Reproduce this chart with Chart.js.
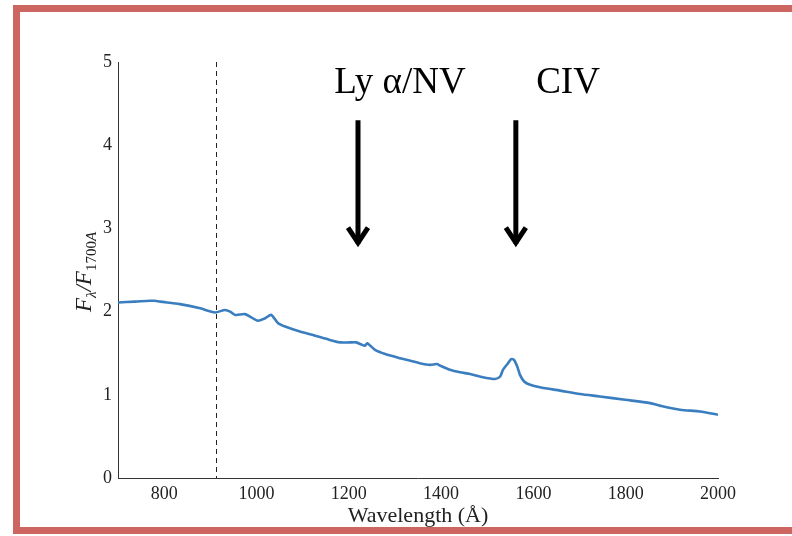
<!DOCTYPE html>
<html>
<head>
<meta charset="utf-8">
<script src="https://cdn.jsdelivr.net/npm/chart.js@4/dist/chart.umd.min.js"></script>
<style>
  html, body { margin: 0; padding: 0; background: #fff; overflow: hidden; }
  #wrap { position: relative; width: 792px; height: 536px; }
  #frame {
    position: absolute; left: 13px; top: 5px; width: 800px; height: 515px;
    border-left: 7px solid #cd6561; border-top: 7px solid #cd6561; border-bottom: 7px solid #cd6561;
    pointer-events: none;
  }
  canvas { position: absolute; left: 0; top: 0; }
</style>
</head>
<body>
<div id="wrap">
  <canvas id="spec" width="792" height="536"></canvas>
  <div id="frame"></div>
</div>
<script>
// composite spectrum
const wavelength = [700, 737, 769, 780, 791, 834, 878, 910, 932, 943, 954, 975, 986, 1003, 1019, 1032,
  1047, 1062, 1094, 1127, 1159, 1181, 1203, 1216, 1229, 1235, 1240, 1257, 1279, 1311, 1333, 1354,
  1376, 1391, 1398, 1419, 1441, 1463, 1484, 1517, 1528, 1534, 1545, 1552, 1558, 1565, 1571, 1580,
  1593, 1614, 1658, 1701, 1744, 1799, 1853, 1874, 1918, 1961, 2000];
const flux = [2.11, 2.12, 2.13, 2.13, 2.12, 2.09, 2.04, 1.99, 2.02, 2.00, 1.96, 1.97, 1.94, 1.89, 1.92, 1.96,
  1.86, 1.82, 1.76, 1.71, 1.66, 1.63, 1.63, 1.63, 1.60, 1.59, 1.62, 1.54, 1.49, 1.44, 1.41, 1.38,
  1.36, 1.37, 1.35, 1.30, 1.27, 1.25, 1.22, 1.19, 1.22, 1.30, 1.38, 1.43, 1.42, 1.34, 1.24, 1.16,
  1.12, 1.09, 1.05, 1.01, 0.98, 0.94, 0.90, 0.87, 0.82, 0.80, 0.76];

const xTicks = [800, 1000, 1200, 1400, 1600, 1800, 2000];
const yTicks = [0, 1, 2, 3, 4, 5];
const lymanLimit = 912;

// emission line markers
const lineNames = ['Ly \u03b1/NV', 'CIV'];
const arrowWave = [1220, 1562];
const labelWave = [1311, 1675];
const arrowTop = 4.30, arrowTip = 2.78, labelY = 4.63;

const serif = '"Liberation Serif", "DejaVu Serif", serif';

const extras = {
  id: 'extras',
  afterDraw(chart) {
    const ctx = chart.ctx, x = chart.scales.x, y = chart.scales.y, area = chart.chartArea;
    ctx.save();

    // Lyman limit
    ctx.strokeStyle = '#222';
    ctx.lineWidth = 1;
    ctx.setLineDash([5, 4]);
    const lx = Math.round(x.getPixelForValue(lymanLimit)) + 0.5;
    ctx.beginPath();
    ctx.moveTo(lx, area.top);
    ctx.lineTo(lx, area.bottom);
    ctx.stroke();
    ctx.setLineDash([]);

    // arrows + labels
    ctx.strokeStyle = '#000';
    ctx.fillStyle = '#000';
    ctx.lineWidth = 5;
    ctx.lineJoin = 'miter';
    ctx.font = '37px ' + serif;
    ctx.textAlign = 'center';
    ctx.textBaseline = 'alphabetic';
    lineNames.forEach((name, i) => {
      const ax = x.getPixelForValue(arrowWave[i]);
      const top = y.getPixelForValue(arrowTop), tip = y.getPixelForValue(arrowTip);
      ctx.beginPath();
      ctx.moveTo(ax, top);
      ctx.lineTo(ax, tip - 3);
      ctx.stroke();
      ctx.beginPath();
      ctx.moveTo(ax - 10, tip - 19);
      ctx.lineTo(ax, tip - 4);
      ctx.lineTo(ax + 10, tip - 19);
      ctx.stroke();
      ctx.fillText(name, x.getPixelForValue(labelWave[i]), y.getPixelForValue(labelY));
    });

    // axis titles
    ctx.fillStyle = '#222';
    ctx.font = '22px ' + serif;
    ctx.fillText('Wavelength (\u00c5)', (area.left + area.right) / 2, 522);

    ctx.translate(91, (area.top + area.bottom) / 2 + 2);
    ctx.rotate(-Math.PI / 2);
    const big = 'italic 23px ' + serif, small = 'italic 15px ' + serif;
    const parts = [['F', big, 0], ['\u03bb', small, 5], ['/', big, 0], ['F', big, 0], ['1700', '15px ' + serif, 5], ['A', small, 5]];
    let w = 0;
    parts.forEach(p => { ctx.font = p[1]; w += ctx.measureText(p[0]).width; });
    let cx = -w / 2;
    ctx.textAlign = 'left';
    parts.forEach(p => {
      ctx.font = p[1];
      ctx.fillText(p[0], cx, p[2]);
      cx += ctx.measureText(p[0]).width;
    });
    ctx.restore();
  }
};

new Chart(document.getElementById('spec'), {
  type: 'line',
  data: {
    datasets: [{
      data: wavelength.map((w, i) => ({ x: w, y: flux[i] })),
      borderColor: '#3a7ebf',
      borderWidth: 2.6,
      pointRadius: 0,
      tension: 0.25,
      fill: false
    }]
  },
  options: {
    responsive: false,
    animation: false,
    layout: { padding: { left: 0, right: 74, top: 62, bottom: 0 } },
    plugins: { legend: { display: false }, tooltip: { enabled: false } },
    scales: {
      x: {
        type: 'linear', min: 700, max: 2000,
        grid: { display: false, drawTicks: false },
        border: { display: true, color: '#333', width: 1 },
        ticks: { padding: 5, color: '#222', font: { family: serif, size: 18 }, callback: v => String(v) },
        afterBuildTicks: s => { s.ticks = xTicks.map(v => ({ value: v })); },
        afterFit: s => { s.height = 58; }
      },
      y: {
        min: 0, max: 5,
        grid: { display: false, drawTicks: false },
        border: { display: true, color: '#333', width: 1 },
        ticks: { padding: 6, color: '#222', font: { family: serif, size: 18 }, callback: v => String(v) },
        afterBuildTicks: s => { s.ticks = yTicks.map(v => ({ value: v })); },
        afterFit: s => { s.width = 118; }
      }
    }
  },
  plugins: [extras]
});
</script>
</body>
</html>
